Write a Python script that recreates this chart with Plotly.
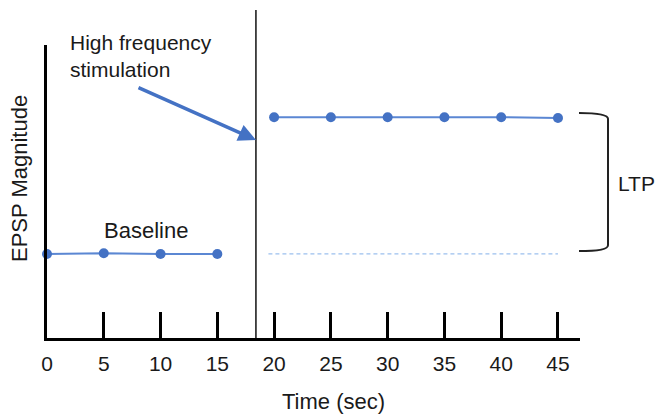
import plotly.graph_objects as go

# ---- data ----
baseline_t = [0, 5, 10, 15]
baseline_v = [1.0, 1.01, 1.0, 1.0]
ltp_t = [20, 25, 30, 35, 40, 45]
ltp_v = [2.63, 2.63, 2.63, 2.63, 2.63, 2.62]
tick_vals = [0, 5, 10, 15, 20, 25, 30, 35, 40, 45]
tick_text = ["0", "5", "10", "15", "20", "25", "30", "35", "40", "45"]
stim_time = 18.4
x_range = [0, 46.94]
y_range = [0, 3.49]

BLUE = "#4472C4"
LINE_BLUE = "#5B87D3"
TXT = "#1a1a1a"
FONT = "Liberation Sans, Arial, sans-serif"

W, H = 660, 415
L, T = 47, 45
R = W - 580
B = H - 338
PW, PH = W - L - R, H - T - B


def px(xp):
    return (xp - L) / PW


def py(yp):
    return (H - B - yp) / PH


def xpaper(v):
    return (v - x_range[0]) / (x_range[1] - x_range[0])


baseline_level = sum(baseline_v) / len(baseline_v)

fig = go.Figure()
fig.add_trace(go.Scatter(
    x=[ltp_t[0] - 0.5, ltp_t[-1]], y=[baseline_level, baseline_level],
    mode="lines", line=dict(color="#9CC0EE", width=1.2, dash="4px,3px"),
    hoverinfo="skip", showlegend=False))
fig.add_trace(go.Scatter(
    x=baseline_t, y=baseline_v, mode="lines+markers",
    line=dict(color=LINE_BLUE, width=2),
    marker=dict(color=BLUE, size=10), cliponaxis=False, showlegend=False))
fig.add_trace(go.Scatter(
    x=ltp_t, y=ltp_v, mode="lines+markers",
    line=dict(color=LINE_BLUE, width=2),
    marker=dict(color=BLUE, size=10), cliponaxis=False, showlegend=False))

# vertical stimulation line
sx = xpaper(stim_time)
fig.add_shape(type="line", xref="paper", yref="paper",
              x0=sx, x1=sx, y0=0, y1=py(10),
              line=dict(color="#111", width=1.5))

# LTP bracket
x0b, x1b = px(579), px(608)
ytop, ybot = py(113), py(251)
fig.add_shape(type="path", xref="paper", yref="paper",
              path=(f"M {x0b},{ytop} Q {x1b},{ytop} {x1b},{ytop - 0.02} "
                    f"L {x1b},{ybot + 0.02} Q {x1b},{ybot} {x0b},{ybot}"),
              line=dict(color="#222", width=2))

annotations = [
    dict(text="High frequency<br>stimulation", x=px(68), y=py(29),
         xanchor="left", yanchor="top", align="left",
         font=dict(size=21, color=TXT, family=FONT), showarrow=False),
    dict(text="Baseline", x=px(146), y=py(230), xanchor="center", yanchor="middle",
         font=dict(size=22, color=TXT, family=FONT), showarrow=False),
    dict(text="LTP", x=px(636), y=py(183), xanchor="center", yanchor="middle",
         font=dict(size=21, color=TXT, family=FONT), showarrow=False),
    dict(text="Time (sec)", x=px(333), y=py(401), xanchor="center", yanchor="middle",
         font=dict(size=22, color=TXT, family=FONT), showarrow=False),
    dict(text="EPSP Magnitude", x=px(19), y=py(179), xanchor="center", yanchor="middle",
         textangle=-90, font=dict(size=22, color=TXT, family=FONT), showarrow=False),
    dict(text="", x=px(256), y=py(140), ax=137 - 256, ay=87 - 140,
         showarrow=True, arrowhead=2, arrowsize=1, arrowwidth=3.5,
         arrowcolor=BLUE, standoff=0),
]
for a in annotations:
    a.setdefault("xref", "paper")
    a.setdefault("yref", "paper")
fig.update_layout(annotations=annotations)

fig.update_xaxes(range=x_range, showline=True, linecolor="black", linewidth=3,
                 showgrid=False, zeroline=False,
                 tickmode="array", tickvals=tick_vals, ticktext=tick_text,
                 ticks="inside", ticklen=26, tickwidth=3, tickcolor="black",
                 ticklabelstandoff=5,
                 tickfont=dict(size=21, color=TXT, family=FONT))
fig.update_yaxes(range=y_range, showline=True, linecolor="black", linewidth=3,
                 showgrid=False, zeroline=False, showticklabels=False, ticks="")

fig.update_layout(width=W, height=H, margin=dict(l=L, r=R, t=T, b=B),
                  plot_bgcolor="white", paper_bgcolor="white",
                  showlegend=False)
fig.write_html("out.html",
               config={"displayModeBar": False},
               post_script="document.body.style.margin='0px';"
                           "document.body.style.overflow='hidden';")
